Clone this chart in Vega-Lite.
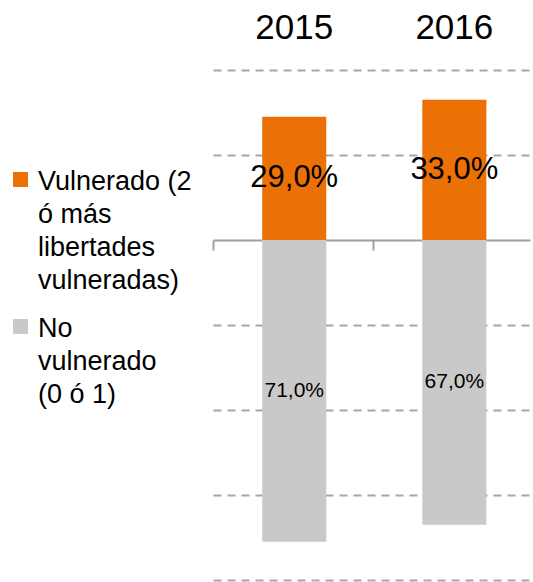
{
  "$schema": "https://vega.github.io/schema/vega-lite/v6.json",
  "width": 317,
  "height": 510,
  "autosize": "none",
  "padding": {"left": 213, "top": 70, "right": 3, "bottom": 2},
  "config": {
    "view": {"stroke": null},
    "font": "Liberation Sans"
  },
  "data": {
    "values": [
      {"year": "2015", "status": "Vulnerado", "value": 29, "label": "29,0%"},
      {"year": "2015", "status": "No vulnerado", "value": -71, "label": "71,0%"},
      {"year": "2016", "status": "Vulnerado", "value": 33, "label": "33,0%"},
      {"year": "2016", "status": "No vulnerado", "value": -67, "label": "67,0%"}
    ]
  },
  "layer": [
    {
      "mark": {"type": "bar"},
      "encoding": {
        "x": {
          "field": "year", "type": "nominal",
          "scale": {"paddingInner": 0.6, "paddingOuter": 0.29, "align": 0.53},
          "axis": {"orient": "top", "title": null, "domain": false, "ticks": false, "tickSize": 0, "labelAngle": 0,
                   "labelFontSize": 35, "labelColor": "#000000", "labelBaseline": "alphabetic", "labelPadding": 32}
        },
        "y": {"field": "value", "type": "quantitative", "stack": null, "title": null,
              "scale": {"domain": [-80, 40], "nice": false},
              "axis": {"values": [-80, -60, -40, -20, 20, 40], "grid": true, "gridDash": [8, 6], "gridColor": "#A6A6A6",
                       "gridWidth": 2, "domain": false, "ticks": false, "labels": false}},
        "color": {
          "field": "status", "type": "nominal",
          "scale": {"domain": ["Vulnerado", "No vulnerado"], "range": ["#EC7105", "#C9C9C9"]},
          "legend": {
            "orient": "none", "legendX": -206, "legendY": 96, "title": null,
            "symbolType": "square", "symbolSize": 225, "symbolStrokeWidth": 0,
            "labelFontSize": 27, "labelColor": "#000000", "labelLimit": 300, "labelOffset": 4,
            "labelBaseline": "alphabetic", "rowPadding": 19,
            "labelExpr": "datum.label == 'Vulnerado' ? ['Vulnerado (2', 'ó más', 'libertades', 'vulneradas)'] : ['No', 'vulnerado', '(0 ó 1)']",
            "encode": {"labels": {"update": {"lineHeight": {"value": 33}, "dy": {"value": 10}}}}
          }
        }
      }
    },
    {
      "transform": [{"filter": "datum.value > 0"}],
      "mark": {"type": "text", "fontSize": 31, "color": "#000000", "baseline": "middle"},
      "encoding": {
        "x": {
          "field": "year", "type": "nominal",
          "axis": {"orient": "bottom", "offset": -340, "title": null, "labels": true, "labelColor": "transparent", "ticks": true, "domain": true,
                   "domainColor": "#A0A0A0", "domainWidth": 2, "tickColor": "#A0A0A0", "tickWidth": 2, "tickSize": 10,
                   "tickOffset": -81, "grid": false, "zindex": 0}
        },
        "y": {"field": "value", "type": "quantitative", "title": null,
              "scale": {"domain": [-160, 80], "nice": false}, "axis": null},
        "text": {"field": "label"}
      }
    },
    {
      "transform": [{"filter": "datum.value < 0"}],
      "mark": {"type": "text", "fontSize": 21, "color": "#000000", "baseline": "middle"},
      "encoding": {
        "x": {"field": "year", "type": "nominal", "axis": null},
        "y": {"field": "value", "type": "quantitative", "title": null,
              "scale": {"domain": [-160, 80], "nice": false}, "axis": null},
        "text": {"field": "label"}
      }
    }
  ],
  "resolve": {"axis": {"x": "independent", "y": "independent"}, "scale": {"y": "independent"}}
}
